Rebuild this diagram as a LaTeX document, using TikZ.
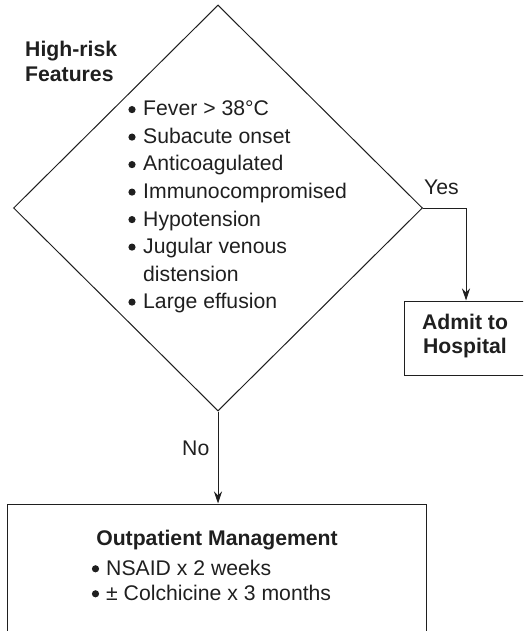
\documentclass[tikz,border=0pt]{standalone}
\usepackage{fontspec}
\setmainfont{Liberation Sans}
\usetikzlibrary{shapes.geometric,arrows.meta}
\begin{document}
\begin{tikzpicture}[x=1pt,y=-1pt,
  ln/.style={draw=black!88, line width=1pt},
  txt/.style={anchor=base west, inner sep=0pt, text height=15.5pt, text depth=4.5pt,
    font=\fontsize{21.2}{25}\selectfont, text=black!88},
  btxt/.style={txt, font=\fontsize{21.2}{25}\selectfont\bfseries},
  bul/.style={fill=black!88},
  arr/.style={ln, -{Stealth[length=12pt,width=8pt]}}]
\useasboundingbox (0,0) rectangle (523,631);
\begin{scope}
\clip (0,0) rectangle (523,631);
\node[ln, diamond, minimum width=409pt, minimum height=406pt, inner sep=0pt] (dia) at (218,208) {};
\node[ln, rectangle, minimum width=124pt, minimum height=74pt, inner sep=0pt] (adm) at (466,338) {};
\node[ln, rectangle, minimum width=419pt, minimum height=140pt, inner sep=0pt] (out) at (216.5,574) {};
\end{scope}
% diamond texts
\node[btxt] (hr1) at (25,57) {High-risk};
\node[btxt] (hr2) at (25,82) {Features};
\node[txt] (b1) at (143,116) {Fever > 38°C};
\node[txt] (b2) at (143,143.5) {Subacute onset};
\node[txt] (b3) at (143,171) {Anticoagulated};
\node[txt] (b4) at (143,198.5) {Immunocompromised};
\node[txt] (b5) at (143,226) {Hypotension};
\node[txt] (b6) at (143,253.5) {Jugular venous};
\node[txt] (b6b) at (143,281) {distension};
\node[txt] (b7) at (143,308.5) {Large effusion};
\foreach \n in {b1,b2,b3,b4,b5,b6,b7}
  \fill[bul] ([xshift=-11pt,yshift=6.4pt]\n.base west) circle (3.6pt);
% admit
\node[btxt, anchor=base] (a1) at (465,329.5) {Admit to};
\node[btxt, anchor=base] (a2) at (465,353) {Hospital};
% outpatient
\node[btxt, anchor=base] (o1) at (217,545) {Outpatient Management};
\node[txt] (o2) at (106,575) {NSAID x 2 weeks};
\node[txt] (o3) at (106,600) {± Colchicine x 3 months};
\foreach \n in {o2,o3}
  \fill[bul] ([xshift=-10.5pt,yshift=6.2pt]\n.base west) circle (3.6pt);
% labels
\node[txt] (yes) at (424,194) {Yes};
\node[txt] (no) at (182,455) {No};
% connectors
\draw[arr] (dia.east) -| (adm.north);
\draw[arr] (dia.south) -- (dia.south |- out.north);
\end{tikzpicture}
\end{document}
